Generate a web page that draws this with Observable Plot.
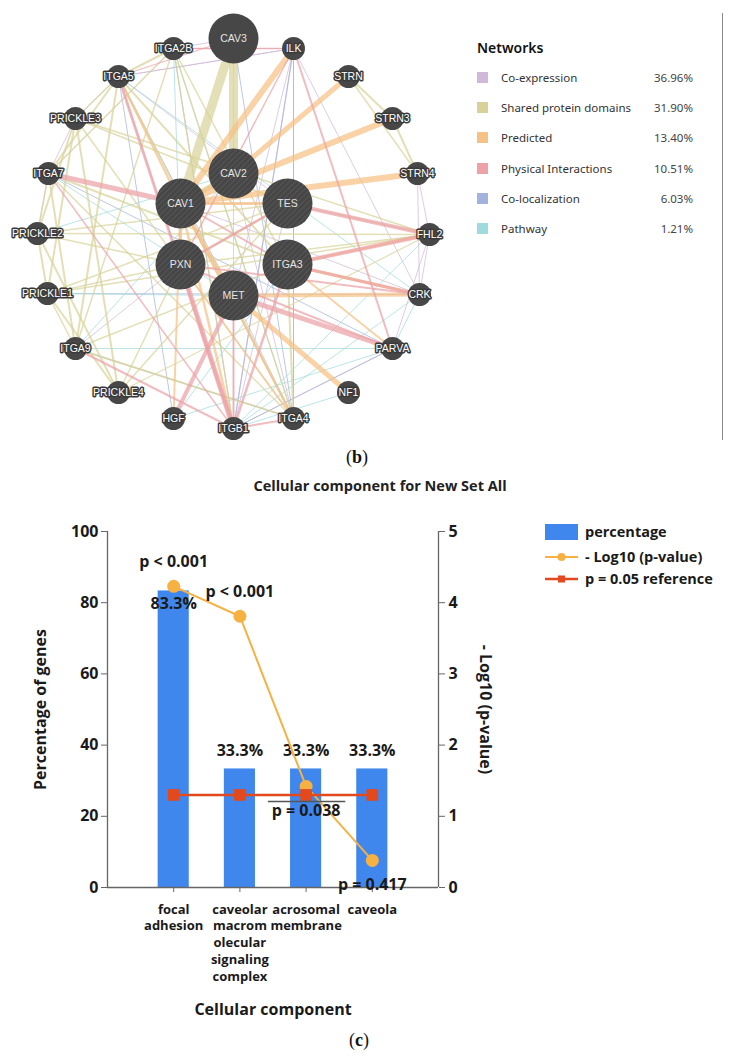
<!DOCTYPE html>
<html>
<head>
<meta charset="utf-8">
<script src="https://cdn.jsdelivr.net/npm/d3@7"></script>
<script src="https://cdn.jsdelivr.net/npm/@observablehq/plot@0.6"></script>
<style>
  html,body{margin:0;padding:0;background:#fff;}
  #page{position:relative;width:734px;height:1061px;overflow:hidden;background:#fff;}
  .abs{position:absolute;white-space:nowrap;}
</style>
</head>
<body>
<div id="page"></div>
<script>
// ================= (b) GeneMANIA network data =================
const nodeNames = ["CAV3","ILK","STRN","STRN3","STRN4","FHL2","CRK","PARVA","NF1","ITGA4","ITGB1","HGF","PRICKLE4","ITGA9","PRICKLE1","PRICKLE2","ITGA7","PRICKLE3","ITGA5","ITGA2B","CAV2","TES","ITGA3","MET","PXN","CAV1"];
const nodeX = [233,293,348,392,417,429,419,392,348,293,233,173,118,75,47,37,48,75,118,173,233,287,287,233,180,180];
const nodeY = [38,48,76,118,173,234,294,348,392,418,428,418,392,348,293,233,173,118,76,48,173,203,264,295,264,203];
const nodeKind = ["large","result","result","result","result","result","result","result","result","result","result","result","result","result","result","result","result","result","result","result","query","query","query","query","query","query"];

const networkTypes = ["Co-expression","Shared protein domains","Predicted","Physical Interactions","Co-localization","Pathway"];
const networkPercents = ["36.96%","31.90%","13.40%","10.51%","6.03%","1.21%"];
const networkColors = ["#d0b8d8","#d8d29a","#f6c184","#eca2a6","#a3b3dd","#9fdadd"];
const typeCodes = ["ce","spd","pred","phys","coloc","path"];

// [source, target, type code, weight]
const edgeList = [
  // co-expression
  ["ILK","ITGA5","ce",1],["ILK","ITGA4","ce",1],["ITGA2B","CAV3","ce",1.2],["PRICKLE3","ITGA5","ce",1],
  ["ITGA7","PRICKLE3","ce",1],["TES","ITGB1","ce",1],["CAV1","CRK","ce",1],["ILK","ITGB1","ce",1.2],
  ["FHL2","STRN4","ce",1],["STRN4","CRK","ce",1],["CAV2","ITGA4","ce",1],["MET","ITGA4","ce",1],
  ["ILK","MET","ce",1],["PXN","ITGA9","ce",1],["ITGA7","PRICKLE2","ce",1],["ILK","CRK","ce",1],
  ["FHL2","CRK","ce",1],["CAV1","TES","ce",1],["PARVA","ITGB1","ce",1],["ITGA7","ITGA2B","ce",1],
  ["ITGA2B","ILK","ce",1.2],["ITGA5","ILK","ce",1],["PARVA","FHL2","ce",1],["ITGA5","TES","ce",1],
  // co-localization
  ["ILK","ITGB1","coloc",1],["ITGA5","PXN","coloc",1],["ITGA4","ILK","coloc",1],["PARVA","ITGB1","coloc",1],
  ["ITGA2B","ITGB1","coloc",1],["ITGA4","CAV1","coloc",1],["ITGA5","MET","coloc",1],["ITGA9","ITGA4","coloc",1],
  ["PRICKLE1","CRK","coloc",1],["ITGA7","PARVA","coloc",1],["CAV3","ITGA4","coloc",1],["HGF","ITGA5","coloc",1],
  // pathway
  ["ITGA9","PARVA","path",1],["CAV3","ITGB1","path",1],["HGF","ITGA3","path",1],["CRK","ITGB1","path",1],
  ["CRK","PARVA","path",1],["ITGA7","MET","path",1],["ITGA5","CRK","path",1],["ITGA2B","ITGA4","path",1],
  ["PRICKLE1","MET","path",1],["ITGA9","CAV2","path",1],["NF1","ITGB1","path",1],["PXN","ITGA4","path",1],
  ["HGF","PARVA","path",1],["PRICKLE2","CAV2","path",1],["ITGA2B","PXN","path",1],["FHL2","ITGB1","path",1],
  // shared protein domains
  ["CAV3","CAV2","spd",9],["CAV3","CAV1","spd",9],["CAV1","CAV2","spd",5],
  ["ITGA2B","ITGA5","spd",2],["ITGA2B","ITGA7","spd",1.5],["ITGA2B","ITGA9","spd",1.5],["ITGA2B","ITGA4","spd",1.5],["ITGA2B","ITGA3","spd",1.5],
  ["ITGA5","ITGA7","spd",2],["ITGA5","ITGA9","spd",2],["ITGA5","ITGA4","spd",2],["ITGA5","ITGA3","spd",2],
  ["ITGA7","ITGA9","spd",2],["ITGA7","ITGA4","spd",1.5],["ITGA7","ITGA3","spd",2],
  ["ITGA9","ITGA4","spd",2],["ITGA9","ITGA3","spd",1.5],["ITGA4","ITGA3","spd",2],
  ["PRICKLE1","PRICKLE2","spd",2],["PRICKLE1","PRICKLE3","spd",2],["PRICKLE1","PRICKLE4","spd",2],
  ["PRICKLE2","PRICKLE3","spd",2],["PRICKLE2","PRICKLE4","spd",2],["PRICKLE3","PRICKLE4","spd",2],
  ["PRICKLE1","PXN","spd",1.5],["PRICKLE2","PXN","spd",1.5],["PRICKLE3","PXN","spd",1.5],["PRICKLE4","PXN","spd",1.5],
  ["PRICKLE1","TES","spd",1.5],["PRICKLE2","TES","spd",1.5],["PRICKLE3","TES","spd",1.5],["PRICKLE4","TES","spd",1.5],
  ["PRICKLE1","FHL2","spd",1.5],["PRICKLE2","FHL2","spd",1.5],["PRICKLE3","FHL2","spd",1.5],["PRICKLE4","FHL2","spd",1.2],
  ["PXN","TES","spd",2],["PXN","FHL2","spd",1.5],["TES","FHL2","spd",1.5],
  ["STRN","STRN3","spd",2],["STRN","STRN4","spd",1.5],["STRN3","STRN4","spd",2],
  ["ITGA7","PRICKLE2","spd",1.5],["ITGA9","PRICKLE1","spd",1.5],["ITGA5","PRICKLE3","spd",1.5],["ITGA2B","ITGB1","spd",1.5],
  // predicted
  ["ILK","CAV1","pred",6],["STRN","CAV2","pred",5],["STRN3","CAV1","pred",6],["STRN4","CAV1","pred",6],
  ["NF1","MET","pred",5],["CRK","MET","pred",4],["CRK","ITGA3","pred",3],["CAV2","CAV1","pred",3],
  ["TES","CAV1","pred",3],["PXN","CAV1","pred",3],["MET","CAV1","pred",3],["ITGB1","CAV1","pred",2.5],
  ["ITGA4","CAV1","pred",2],["HGF","CAV1","pred",2],["FHL2","ITGA3","pred",2.5],["PARVA","ITGA3","pred",2],
  ["ITGA5","CAV1","pred",2],["ITGA4","PXN","pred",2],
  // physical interactions
  ["ITGA7","CAV1","phys",5],["ITGA5","ITGB1","phys",3],["PXN","ITGB1","phys",5],["HGF","MET","phys",4],
  ["TES","FHL2","phys",4],["ITGA3","FHL2","phys",4],["MET","PARVA","phys",5],["ILK","PARVA","phys",2],
  ["ITGA3","CRK","phys",3],["ITGA2B","ILK","phys",1.5],["ITGA4","ITGB1","phys",2],["ITGA3","ITGB1","phys",2.5],
  ["ITGA9","ITGB1","phys",2],["ITGA7","ITGB1","phys",1.5],["PXN","ILK","phys",1.5],["PXN","PARVA","phys",2],
  ["CRK","PXN","phys",2],["ITGA3","CAV1","phys",2],["ITGA5","CAV3","phys",1.2],["MET","ITGB1","phys",2],
  ["TES","PXN","phys",2.5]
];

// ================= (c) enrichment bar chart data =================
const chartTitle = "Cellular component for New Set All";
const categories = ["focal adhesion","caveolar macromolecular signaling complex","acrosomal membrane","caveola"];
const categoryTickLabels = ["focal\nadhesion","caveolar\nmacrom\nolecular\nsignaling\ncomplex","acrosomal\nmembrane","caveola"];
const percentage = [83.3,33.3,33.3,33.3];
const negLog10P = [4.23,3.81,1.42,0.38];
const pValueLabels = ["p < 0.001","p < 0.001","p = 0.038","p = 0.417"];
const refNegLog10 = 1.30; // -log10(0.05)
const leftTicks = [0,20,40,60,80,100];
const rightTicks = [0,1,2,3,4,5];
const seriesNames = ["percentage","- Log10 (p-value)","p = 0.05 reference"];
const seriesColors = ["#3f87ed","#f6b142","#e24a1d"];

// ================= build page =================
const page = document.getElementById("page");
function addDiv(html, css){ const d=document.createElement("div"); d.className="abs"; d.innerHTML=html; Object.assign(d.style, css); page.appendChild(d); return d; }

// ---- network plot ----
const typeName = Object.fromEntries(typeCodes.map((c,i)=>[c, networkTypes[i]]));
const nodes = nodeNames.map((n,i)=>({name:n, x:nodeX[i], y:nodeY[i], kind:nodeKind[i]}));
const pos = new Map(nodes.map(d=>[d.name,d]));
const edges = edgeList.map(([s,t,c,w])=>({s,t,type:typeName[c],w}));

const net = Plot.plot({
  width: 460, height: 445, margin: 0,
  x: {domain:[0,460], range:[0,460], axis:null},
  y: {domain:[0,445], range:[0,445], axis:null},
  color: {domain: networkTypes, range: networkColors},
  style: {background:"transparent", overflow:"visible"},
  marks: [
    Plot.link(edges, {x1:d=>pos.get(d.s).x, y1:d=>pos.get(d.s).y, x2:d=>pos.get(d.t).x, y2:d=>pos.get(d.t).y,
      stroke:"type", strokeWidth:"w", strokeOpacity:0.72}),
    Plot.dot(nodes.filter(d=>d.kind==="result"), {x:"x", y:"y", r:11.5, fill:"#474747"}),
    Plot.dot(nodes.filter(d=>d.kind==="large"), {x:"x", y:"y", r:25, fill:"#474747"}),
    Plot.dot(nodes.filter(d=>d.kind==="query"), {x:"x", y:"y", r:25, fill:"url(#hatch)"}),
    Plot.text(nodes.filter(d=>d.kind==="result"), {x:"x", y:"y", text:"name", fill:"white", stroke:"#3a3a3a", strokeWidth:3,
      fontSize:10.5, fontFamily:"'Liberation Sans', Arial, sans-serif"}),
    Plot.text(nodes.filter(d=>d.kind!=="result"), {x:"x", y:"y", text:"name", fill:"#e4e4e4",
      fontSize:10.5, fontFamily:"'Liberation Sans', Arial, sans-serif"})
  ]
});
const ns = "http://www.w3.org/2000/svg";
const defs = document.createElementNS(ns, "defs");
defs.innerHTML = '<pattern id="hatch" patternUnits="userSpaceOnUse" width="4" height="4" patternTransform="rotate(45)"><rect width="4" height="4" fill="#464646"/><line x1="0" y1="0" x2="0" y2="4" stroke="#5c5c5c" stroke-width="1.4"/></pattern>';
net.insertBefore(defs, net.firstChild);
net.style.position="absolute"; net.style.left="0px"; net.style.top="0px";
page.appendChild(net);

// network legend
const legFont = "'Noto Sans','Open Sans',sans-serif";
addDiv("Networks", {left:"477px", top:"38px", font:`600 14px ${legFont}`, color:"#111"});
networkTypes.forEach((t,i)=>{
  const cy = 78 + i*30.2;
  addDiv("", {left:"477px", top:(cy-6)+"px", width:"11px", height:"11px", background:networkColors[i]});
  addDiv(t, {left:"501px", top:(cy-9)+"px", font:`400 11.5px ${legFont}`, color:"#333", lineHeight:"17px"});
  addDiv(networkPercents[i], {left:"600px", width:"93px", textAlign:"right", top:(cy-9)+"px", font:`400 11.5px ${legFont}`, color:"#444", lineHeight:"17px"});
});
addDiv("", {left:"722px", top:"13px", width:"1px", height:"427px", background:"#8a8a8a"});
addDiv("(<b>b</b>)", {left:"357px", top:"457px", transform:"translate(-50%,-50%)", font:"400 18px 'Liberation Serif', serif", color:"#111"});

// ---- chart (c) ----
const k = leftTicks[leftTicks.length-1] / rightTicks[rightTicks.length-1];
const rows = categories.map((c,i)=>({i:i+1, cat:c, tick:categoryTickLabels[i], pct:percentage[i], nl:negLog10P[i], p:pValueLabels[i]}));
const ff = "'Open Sans', sans-serif";
addDiv(chartTitle, {left:"380px", top:"485px", transform:"translate(-50%,-50%)", font:`700 14.5px ${ff}`, color:"#222"});

const chart = Plot.plot({
  width: 734, height: 530,
  marginLeft: 107, marginRight: 296, marginTop: 31, marginBottom: 143,
  x: {domain:[0, categories.length+1]},
  y: {domain:[0, leftTicks[leftTicks.length-1]]},
  style: {fontFamily: ff, fontWeight:"bold", color:"#1a1a1a", background:"transparent", overflow:"visible"},
  marks: [
    Plot.rectY(rows, {x1:d=>d.i-0.235, x2:d=>d.i+0.235, y1:0, y2:"pct", fill:seriesColors[0]}),
    Plot.text(rows.filter(d=>d.pct>50), {x:"i", y:"pct", text:d=>d.pct.toFixed(1)+"%", dy:13, fontSize:16}),
    Plot.text(rows.filter(d=>d.pct<=50), {x:"i", y:"pct", text:d=>d.pct.toFixed(1)+"%", dy:-18, fontSize:16}),
    Plot.ruleY([0], {stroke:"#666", strokeWidth:1.3}),
    Plot.ruleX([0, categories.length+1], {stroke:"#666", strokeWidth:1.3}),
    Plot.axisY({ticks:leftTicks, tickSize:6, tickPadding:3, fontSize:16, fontWeight:"bold", stroke:"#666", label:null}),
    Plot.axisY({anchor:"right", ticks:rightTicks.map(t=>t*k), tickFormat:d=>d/k, tickSize:6, tickPadding:4, fontSize:16, fontWeight:"bold", stroke:"#666", label:null}),
    Plot.axisX({ticks:rows.map(d=>d.i), tickSize:5, tickFormat:()=>"", stroke:"#666", label:null}),
    Plot.text(rows, {x:"i", y:0, text:"tick", dy:14, lineAnchor:"top", lineHeight:1.3, fontSize:13}),
    Plot.text(["Cellular component"], {frameAnchor:"bottom", dy:127, fontSize:16}),
    Plot.text(["Percentage of genes"], {frameAnchor:"left", textAnchor:"middle", rotate:-90, dx:-67, fontSize:16}),
    Plot.text(["- Log10 (p-value)"], {frameAnchor:"right", textAnchor:"middle", rotate:90, dx:47, fontSize:16}),
    Plot.line(rows, {x:"i", y:d=>d.nl*k, stroke:seriesColors[1], strokeWidth:2}),
    Plot.dot(rows, {x:"i", y:d=>d.nl*k, r:6.5, fill:seriesColors[1]}),
    Plot.line(rows, {x:"i", y:()=>refNegLog10*k, stroke:seriesColors[2], strokeWidth:2.5}),
    Plot.dot(rows, {x:"i", y:()=>refNegLog10*k, symbol:"square", r:6.6, fill:seriesColors[2]}),
    Plot.ruleY(rows.filter(d=>d.p==="p = 0.038"), {x1:d=>d.i-0.57, x2:d=>d.i+0.6, y:d=>d.nl*k, dy:15, stroke:"#555", strokeWidth:1.5}),
    Plot.text(rows.filter(d=>d.i<=2), {x:"i", y:d=>d.nl*k, text:"p", dy:-24, fontSize:16}),
    Plot.text(rows.filter(d=>d.i>=3), {x:"i", y:d=>d.nl*k, text:"p", dy:24, fontSize:16})
  ]
});
chart.style.position="absolute"; chart.style.left="0px"; chart.style.top="500px";
page.appendChild(chart);

// chart (c) legend
const lf = `700 14.5px ${ff}`;
addDiv(`<svg width="33" height="16"><rect x="0" y="0" width="33" height="16" fill="${seriesColors[0]}"/></svg>`, {left:"545px", top:"524px", lineHeight:"0"});
addDiv(seriesNames[0], {left:"585px", top:"521px", font:lf, color:"#1a1a1a", lineHeight:"22px"});
addDiv(`<svg width="33" height="12"><line x1="0" y1="6" x2="33" y2="6" stroke="${seriesColors[1]}" stroke-width="2"/><circle cx="16.5" cy="6" r="4" fill="${seriesColors[1]}"/></svg>`, {left:"545px", top:"551px", lineHeight:"0"});
addDiv(seriesNames[1], {left:"585px", top:"546px", font:lf, color:"#1a1a1a", lineHeight:"22px"});
addDiv(`<svg width="33" height="12"><line x1="0" y1="6" x2="33" y2="6" stroke="${seriesColors[2]}" stroke-width="2.5"/><rect x="13" y="2.5" width="7" height="7" fill="${seriesColors[2]}"/></svg>`, {left:"545px", top:"573px", lineHeight:"0"});
addDiv(seriesNames[2], {left:"585px", top:"568px", font:lf, color:"#1a1a1a", lineHeight:"22px"});

addDiv("(<b>c</b>)", {left:"359px", top:"1040px", transform:"translate(-50%,-50%)", font:"400 18px 'Liberation Serif', serif", color:"#111"});
</script>
</body>
</html>
